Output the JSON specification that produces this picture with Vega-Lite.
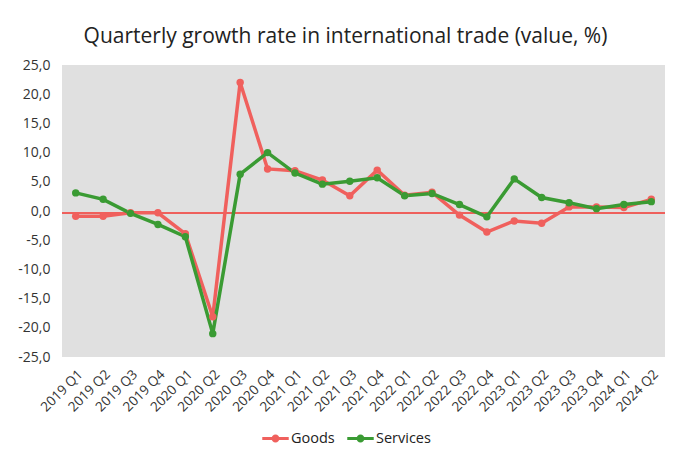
{
  "$schema": "https://vega.github.io/schema/vega-lite/v6.json",
  "autosize": "none",
  "width": 603,
  "height": 292,
  "padding": {"left": 62, "top": 65, "right": 25, "bottom": 111},
  "background": "white",
  "title": {
    "text": "Quarterly growth rate in international trade (value, %)",
    "font": "Open Sans",
    "fontSize": 21,
    "fontWeight": "normal",
    "color": "#222222",
    "anchor": "middle",
    "frame": "group",
    "dx": -18,
    "offset": 11
  },
  "config": {
    "locale": {"number": {"decimal": ",", "thousands": ".", "grouping": [3], "currency": ["", ""], "minus": "-"}},
    "view": {"fill": "#e0e0e0", "stroke": null},
    "font": "Open Sans"
  },
  "data": {
    "values": [
      {"q": "2019 Q1", "series": "Goods", "v": -0.9},
      {"q": "2019 Q2", "series": "Goods", "v": -0.9},
      {"q": "2019 Q3", "series": "Goods", "v": -0.3},
      {"q": "2019 Q4", "series": "Goods", "v": -0.3},
      {"q": "2020 Q1", "series": "Goods", "v": -3.9},
      {"q": "2020 Q2", "series": "Goods", "v": -18.1},
      {"q": "2020 Q3", "series": "Goods", "v": 22.0},
      {"q": "2020 Q4", "series": "Goods", "v": 7.2},
      {"q": "2021 Q1", "series": "Goods", "v": 6.9},
      {"q": "2021 Q2", "series": "Goods", "v": 5.3},
      {"q": "2021 Q3", "series": "Goods", "v": 2.6},
      {"q": "2021 Q4", "series": "Goods", "v": 7.0},
      {"q": "2022 Q1", "series": "Goods", "v": 2.7},
      {"q": "2022 Q2", "series": "Goods", "v": 3.2},
      {"q": "2022 Q3", "series": "Goods", "v": -0.7},
      {"q": "2022 Q4", "series": "Goods", "v": -3.6},
      {"q": "2023 Q1", "series": "Goods", "v": -1.7},
      {"q": "2023 Q2", "series": "Goods", "v": -2.1},
      {"q": "2023 Q3", "series": "Goods", "v": 0.7},
      {"q": "2023 Q4", "series": "Goods", "v": 0.7},
      {"q": "2024 Q1", "series": "Goods", "v": 0.6},
      {"q": "2024 Q2", "series": "Goods", "v": 2.0},
      {"q": "2019 Q1", "series": "Services", "v": 3.1},
      {"q": "2019 Q2", "series": "Services", "v": 2.0},
      {"q": "2019 Q3", "series": "Services", "v": -0.4},
      {"q": "2019 Q4", "series": "Services", "v": -2.3},
      {"q": "2020 Q1", "series": "Services", "v": -4.4},
      {"q": "2020 Q2", "series": "Services", "v": -21.0},
      {"q": "2020 Q3", "series": "Services", "v": 6.3},
      {"q": "2020 Q4", "series": "Services", "v": 10.0},
      {"q": "2021 Q1", "series": "Services", "v": 6.5},
      {"q": "2021 Q2", "series": "Services", "v": 4.6},
      {"q": "2021 Q3", "series": "Services", "v": 5.1},
      {"q": "2021 Q4", "series": "Services", "v": 5.7},
      {"q": "2022 Q1", "series": "Services", "v": 2.6},
      {"q": "2022 Q2", "series": "Services", "v": 3.0},
      {"q": "2022 Q3", "series": "Services", "v": 1.1},
      {"q": "2022 Q4", "series": "Services", "v": -1.0},
      {"q": "2023 Q1", "series": "Services", "v": 5.5},
      {"q": "2023 Q2", "series": "Services", "v": 2.3},
      {"q": "2023 Q3", "series": "Services", "v": 1.4},
      {"q": "2023 Q4", "series": "Services", "v": 0.4},
      {"q": "2024 Q1", "series": "Services", "v": 1.1},
      {"q": "2024 Q2", "series": "Services", "v": 1.6}
    ]
  },
  "layer": [
    {
      "mark": {"type": "rule", "color": "#f0605d", "strokeWidth": 1},
      "encoding": {"y": {"datum": -0.3, "type": "quantitative"}}
    },
    {
      "mark": {"type": "line", "strokeWidth": 3.5, "point": {"filled": true, "size": 55, "opacity": 1}},
      "encoding": {
        "x": {
          "field": "q", "type": "ordinal", "title": null, "sort": null,
          "scale": {"type": "band", "paddingInner": 0, "paddingOuter": 0},
          "axis": {"labelAngle": -45, "labelFontSize": 13.5, "labelColor": "#333333", "ticks": false, "domain": false, "grid": false, "labelPadding": 10, "labelOverlap": false}
        },
        "y": {
          "field": "v", "type": "quantitative", "title": null,
          "scale": {"domain": [-25, 25], "nice": false, "zero": false},
          "axis": {"values": [-25, -20, -15, -10, -5, 0, 5, 10, 15, 20, 25], "tickCount": 20, "format": ".1f", "labelFontSize": 14, "labelColor": "#333333", "ticks": false, "domain": false, "grid": false, "labelPadding": 12, "labelOverlap": false}
        },
        "color": {
          "field": "series", "type": "nominal",
          "scale": {"domain": ["Goods", "Services"], "range": ["#f0605d", "#3a9b33"]},
          "legend": {
            "title": null, "orient": "none", "direction": "horizontal",
            "legendX": 200, "legendY": 360,
            "labelFontSize": 14.5, "labelColor": "#222222",
            "symbolType": "M-1,-0.12H1V0.12H-1Z M0.3,0A0.3,0.3 0 1,1 -0.3,0A0.3,0.3 0 1,1 0.3,0Z",
            "symbolSize": 700, "symbolStrokeWidth": 0, "symbolOpacity": 1,
            "labelOffset": 2, "columnPadding": 12
          }
        }
      }
    }
  ]
}
